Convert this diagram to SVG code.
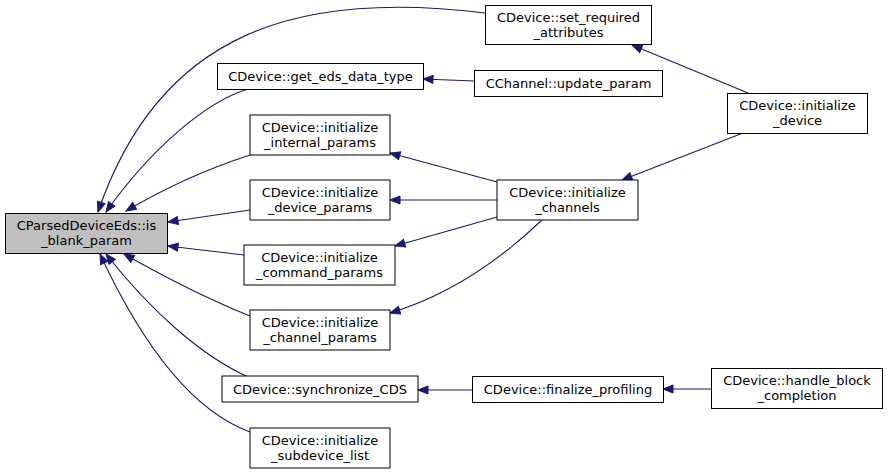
<svg xmlns="http://www.w3.org/2000/svg" width="888" height="473" viewBox="0 0 888 473">
<style>
  .node rect { fill: #ffffff; stroke: #000000; stroke-width: 1; }
  .node.main rect { fill: #bfbfbf; }
  .node text { font-family: "DejaVu Sans", "Liberation Sans", sans-serif; font-size: 13px; fill: #000000; text-anchor: middle; }
  .edges path { fill: none; stroke: #191970; stroke-width: 1.1; marker-end: url(#arrow); }
</style>
<defs>
  <marker id="arrow" markerUnits="userSpaceOnUse" markerWidth="12" markerHeight="10" viewBox="-1 -5 12 10" refX="10" refY="0" orient="auto">
    <path d="M0,-4 L10,0 L0,4 Z" fill="#191970" stroke="#191970" stroke-width="1"/>
  </marker>
</defs>
<rect width="888" height="473" fill="#ffffff"/>
<g class="edges" id="connectors">
  <path d="M485,13 C300,-10 160,30 98,212"/>
  <path d="M248,89 C205,102 150,150 106,212"/>
  <path d="M250,155 C210,168 170,185 126,211"/>
  <path d="M250,210 L168,222"/>
  <path d="M244,255 L168,246"/>
  <path d="M250,316 C210,300 170,280 124,254"/>
  <path d="M248,377 C200,355 150,310 106,254"/>
  <path d="M250,432 C190,410 140,340 100,254"/>
  <path d="M474,81 L423,79"/>
  <path d="M748,93 L632,45"/>
  <path d="M743,133 L622,180"/>
  <path d="M497,182 L390,153"/>
  <path d="M497,200 L390,200"/>
  <path d="M497,217 L395,246"/>
  <path d="M542,220 C500,260 450,295 390,313"/>
  <path d="M472,390 L418,390"/>
  <path d="M711,389 L663,389"/>
</g>
<g class="node main" id="node_is_blank_param">
  <rect x="5.5" y="213.5" width="162" height="40"/>
  <text x="86.5" y="230">CParsedDeviceEds::is</text>
  <text x="86.5" y="245">_blank_param</text>
</g>
<g class="node" id="node_set_required_attributes">
  <rect x="485.5" y="5.5" width="166" height="39"/>
  <text x="568.5" y="22">CDevice::set_required</text>
  <text x="568.5" y="37">_attributes</text>
</g>
<g class="node" id="node_get_eds_data_type">
  <rect x="217.5" y="63.5" width="206" height="26"/>
  <text x="320.5" y="81">CDevice::get_eds_data_type</text>
</g>
<g class="node" id="node_update_param">
  <rect x="474.5" y="70.5" width="188" height="26"/>
  <text x="568.5" y="88">CChannel::update_param</text>
</g>
<g class="node" id="node_initialize_device">
  <rect x="727.5" y="93.5" width="140" height="40"/>
  <text x="797.5" y="110">CDevice::initialize</text>
  <text x="797.5" y="125">_device</text>
</g>
<g class="node" id="node_initialize_internal_params">
  <rect x="250" y="115" width="140" height="40"/>
  <text x="320" y="132">CDevice::initialize</text>
  <text x="320" y="147">_internal_params</text>
</g>
<g class="node" id="node_initialize_device_params">
  <rect x="250" y="180" width="140" height="40"/>
  <text x="320" y="197">CDevice::initialize</text>
  <text x="320" y="212">_device_params</text>
</g>
<g class="node" id="node_initialize_channels">
  <rect x="497" y="180" width="141" height="40"/>
  <text x="567.5" y="197">CDevice::initialize</text>
  <text x="567.5" y="212">_channels</text>
</g>
<g class="node" id="node_initialize_command_params">
  <rect x="244" y="245" width="151" height="40"/>
  <text x="319.5" y="262">CDevice::initialize</text>
  <text x="319.5" y="277">_command_params</text>
</g>
<g class="node" id="node_initialize_channel_params">
  <rect x="250" y="310" width="140" height="40"/>
  <text x="320" y="327">CDevice::initialize</text>
  <text x="320" y="342">_channel_params</text>
</g>
<g class="node" id="node_synchronize_CDS">
  <rect x="222" y="376" width="196" height="26"/>
  <text x="320" y="394">CDevice::synchronize_CDS</text>
</g>
<g class="node" id="node_finalize_profiling">
  <rect x="472.5" y="376.5" width="191" height="26"/>
  <text x="568" y="394">CDevice::finalize_profiling</text>
</g>
<g class="node" id="node_handle_block_completion">
  <rect x="711.5" y="368.5" width="171" height="40"/>
  <text x="797" y="385">CDevice::handle_block</text>
  <text x="797" y="400">_completion</text>
</g>
<g class="node" id="node_initialize_subdevice_list">
  <rect x="250" y="428" width="140" height="40"/>
  <text x="320" y="445">CDevice::initialize</text>
  <text x="320" y="460">_subdevice_list</text>
</g>
</svg>
